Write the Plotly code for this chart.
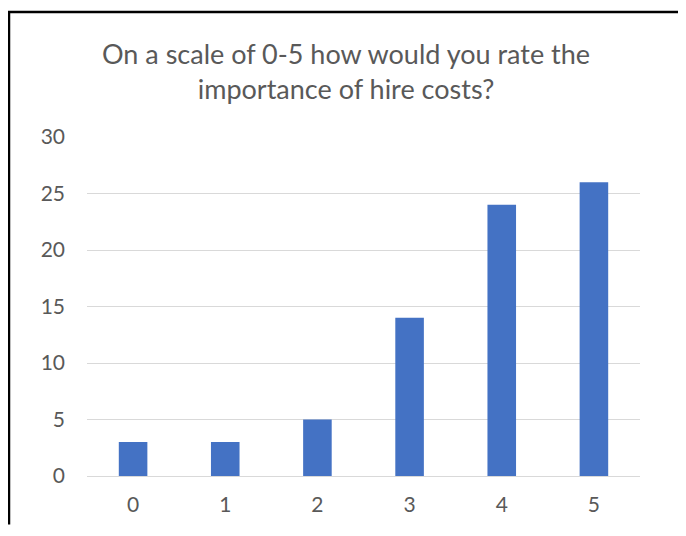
import plotly.graph_objects as go

categories = ["0", "1", "2", "3", "4", "5"]
values = [3, 3, 5, 14, 24, 26]
y_ticks = [0, 5, 10, 15, 20, 25, 30]
title_text = "On a scale of 0-5 how would you rate the<br>importance of hire costs?"

# page body has an 8px margin, so the figure is sized/offset to compensate
OFF = 8
W, H = 686 - 2 * OFF, 536 - 2 * OFF
L, T = 87 - OFF, 137 - OFF
R = W - (640 - OFF)
B = H - (479 - OFF)
pw, ph = W - L - R, H - T - B

def px_x(x):
    return (x - OFF - L) / pw

def px_y(y):
    return (H - B - (y - OFF)) / ph

fig = go.Figure(go.Bar(x=categories, y=values, marker=dict(color="#4472C4", line=dict(width=0)), width=0.31))

fig.update_layout(
    width=W, height=H,
    margin=dict(l=L, r=R, t=T, b=B),
    paper_bgcolor="white", plot_bgcolor="white",
    showlegend=False,
    font=dict(family="Lato, Open Sans, sans-serif", color="#595959", size=21),
    xaxis=dict(type="category", showgrid=False, showline=False, ticks="", tickfont=dict(size=21, color="#595959"), ticklabelstandoff=14),
    yaxis=dict(range=[0, 30], tickvals=y_ticks, showgrid=True, gridcolor="#d9d9d9", gridwidth=1,
               zeroline=True, zerolinecolor="#d9d9d9", zerolinewidth=1, showline=False, ticks="",
               tickfont=dict(size=21, color="#595959"), ticklabelstandoff=21),
    annotations=[dict(text=title_text, x=px_x(346), y=px_y(70), xref="paper", yref="paper",
                      xanchor="center", yanchor="middle", showarrow=False,
                      font=dict(size=27, color="#595959"))],
    shapes=[
        dict(type="line", xref="paper", yref="paper", x0=px_x(W + OFF), x1=px_x(W + OFF), y0=px_y(0), y1=px_y(H + OFF), line=dict(color="white", width=8)),
        dict(type="line", xref="paper", yref="paper", x0=px_x(9), x1=px_x(9), y0=px_y(10), y1=px_y(H + OFF), line=dict(color="black", width=2.5)),
        dict(type="line", xref="paper", yref="paper", x0=px_x(8), x1=px_x(W + OFF), y0=px_y(11), y1=px_y(11), line=dict(color="black", width=2.5)),
    ],
)

fig.write_html("out.html")
